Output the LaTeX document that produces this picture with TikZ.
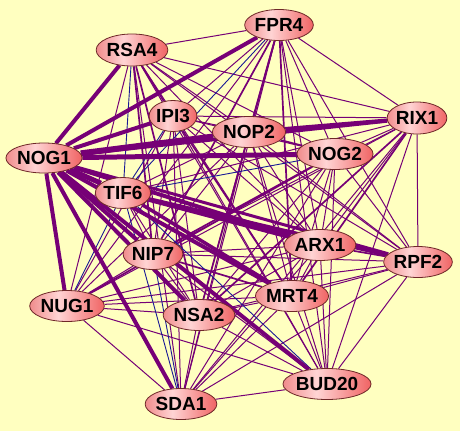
\documentclass[tikz,border=0pt]{standalone}
\usepackage{fontspec}
\setmainfont{Liberation Sans}
\usetikzlibrary{shapes.geometric,backgrounds}
\definecolor{bg}{RGB}{255,255,192}
\definecolor{ep}{RGB}{118,0,118}
\definecolor{eb}{RGB}{25,25,150}
\definecolor{nl}{RGB}{240,140,140}
\definecolor{nm}{RGB}{255,212,212}
\definecolor{nr}{RGB}{240,100,100}
\definecolor{nb}{RGB}{110,40,40}
\pgfdeclarehorizontalshading{geneshade}{100bp}{color(0bp)=(nl); color(25bp)=(nl); color(44bp)=(nm); color(75bp)=(nr); color(100bp)=(nr)}
\begin{document}
\begin{tikzpicture}[x=1pt,y=-1pt,
  genenode/.style={ellipse, draw=nb, line width=0.8pt, shading=geneshade, inner sep=0pt, minimum height=31pt, font=\bfseries\fontsize{19}{19}\selectfont},
  thinedge/.style={ep, line width=1pt},
  midedge/.style={ep, line width=1.7pt},
  blueedge/.style={eb, line width=0.9pt}]
\useasboundingbox (0,0) rectangle (460,431);
\node[genenode, minimum width=63pt] (FPR4) at (279,25) {FPR4};
\node[genenode, minimum width=62pt, minimum height=32pt] (RSA4) at (132,50) {RSA4};
\node[genenode, minimum width=45pt] (IPI3) at (173,116) {IPI3};
\node[genenode, minimum width=65pt] (NOP2) at (249,132) {NOP2};
\node[genenode, minimum width=54pt, minimum height=32pt] (RIX1) at (417,118) {RIX1};
\node[genenode, minimum width=66pt, minimum height=30pt] (NOG1) at (44,158) {NOG1};
\node[genenode, minimum width=67pt] (NOG2) at (335,154) {NOG2};
\node[genenode, minimum width=52pt] (TIF6) at (123,193) {TIF6};
\node[genenode, minimum width=62pt] (ARX1) at (320,245) {ARX1};
\node[genenode, minimum width=61pt] (RPF2) at (418,262) {RPF2};
\node[genenode, minimum width=55pt] (NIP7) at (153,254) {NIP7};
\node[genenode, minimum width=65pt] (MRT4) at (292,296) {MRT4};
\node[genenode, minimum width=66pt] (NUG1) at (67,306) {NUG1};
\node[genenode, minimum width=62pt] (NSA2) at (199,315) {NSA2};
\node[genenode, minimum width=74pt] (BUD20) at (327,384) {BUD20};
\node[genenode, minimum width=62pt] (SDA1) at (181,404) {SDA1};
\begin{scope}[on background layer]
\fill[bg] (0,0) rectangle (460,431);
\foreach \a/\b in {
 FPR4/RSA4, FPR4/IPI3, FPR4/RIX1, FPR4/NOG2, FPR4/ARX1, FPR4/RPF2, FPR4/NUG1, FPR4/BUD20, FPR4/SDA1,
 RSA4/NOP2, RSA4/RIX1, RSA4/NOG2, RSA4/ARX1, RSA4/RPF2, RSA4/MRT4, RSA4/NUG1, RSA4/BUD20, RSA4/SDA1,
 IPI3/NOP2, IPI3/RIX1, IPI3/NOG2, IPI3/ARX1, IPI3/RPF2, IPI3/NIP7, IPI3/NUG1, IPI3/NSA2, IPI3/BUD20, IPI3/SDA1,
 NOP2/ARX1, NOP2/RPF2, NOP2/NIP7, NOP2/MRT4, NOP2/NUG1, NOP2/NSA2, NOP2/BUD20, NOP2/SDA1,
 RIX1/NOG2, RIX1/ARX1, RIX1/RPF2, RIX1/NIP7, RIX1/NUG1, RIX1/BUD20, RIX1/SDA1,
 NOG2/ARX1, NOG2/RPF2, NOG2/MRT4, NOG2/NSA2, NOG2/BUD20, NOG2/SDA1,
 ARX1/NIP7, ARX1/MRT4, ARX1/NUG1, ARX1/NSA2, ARX1/BUD20, ARX1/SDA1,
 RPF2/NIP7, RPF2/MRT4, RPF2/NUG1, RPF2/NSA2, RPF2/BUD20, RPF2/SDA1,
 NIP7/NUG1, NIP7/NSA2, NIP7/BUD20,
 MRT4/NUG1, MRT4/NSA2, MRT4/BUD20, MRT4/SDA1,
 NUG1/NSA2, NUG1/BUD20, NUG1/SDA1,
 NSA2/BUD20, NSA2/SDA1, BUD20/SDA1,
 TIF6/NOP2, TIF6/RIX1, TIF6/NIP7, TIF6/NSA2}
 \draw[thinedge] (\a) -- (\b);
\foreach \a/\b in {
 FPR4/NOP2, FPR4/NIP7, FPR4/NSA2, FPR4/MRT4, RSA4/NIP7, RSA4/NSA2, RSA4/IPI3,
 IPI3/MRT4, NOG2/NIP7, NOG2/NUG1, RIX1/MRT4, RIX1/NSA2, NOP2/NOG2, ARX1/RPF2, NIP7/MRT4}
 \draw[midedge] (\a) -- (\b);
\foreach \a/\b in {RSA4/TIF6, FPR4/TIF6, IPI3/TIF6, NOG2/TIF6, NUG1/TIF6, TIF6/SDA1, TIF6/BUD20, NIP7/SDA1}
 \draw[blueedge] (\a) -- (\b);
\foreach \a/\b/\w in {
 NOG1/RSA4/4, NOG1/FPR4/4, NOG1/IPI3/4, NOG1/NOP2/6, NOG1/NOG2/5, NOG1/RIX1/3,
 NOG1/TIF6/5, NOG1/NIP7/4, NOG1/NSA2/4, NOG1/MRT4/4, NOG1/ARX1/4, NOG1/BUD20/4,
 NOG1/SDA1/4, NOG1/NUG1/4, NOG1/RPF2/3,
 TIF6/ARX1/4, TIF6/RPF2/4, TIF6/MRT4/3.5, NOP2/RIX1/4}
 \draw[ep, line width=\w pt] (\a) -- (\b);
\end{scope}
\end{tikzpicture}
\end{document}
